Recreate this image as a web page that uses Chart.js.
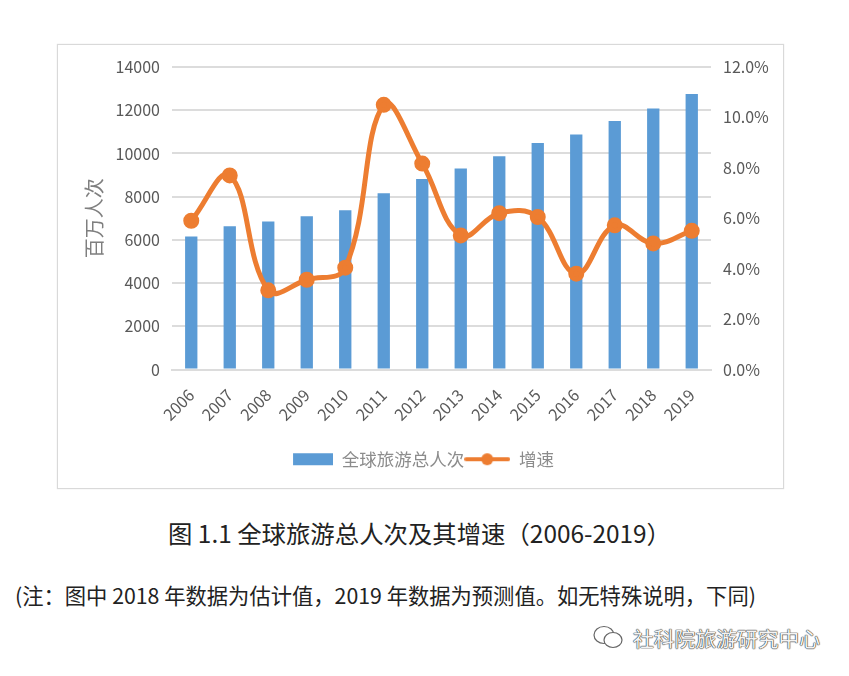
<!DOCTYPE html>
<html lang="zh">
<head>
    <meta charset="UTF-8">
    <title>全球旅游总人次及其增速</title>
    <script src="https://cdn.jsdelivr.net/npm/chart.js"></script>
    <style>
        body {
            margin: 0;
            width: 849px;
            height: 676px;
            position: relative;
            background: #fff;
            overflow: hidden;
            font-family: "Noto Sans CJK SC", sans-serif;
            color: #222;
        }
        .chart-box {
            position: absolute;
            left: 57px;
            top: 44px;
            width: 725px;
            height: 443px;
            border: 1px solid #d9d9d9;
            box-shadow: 0 0 1px #d9d9d9;
        }
        .line {
            position: absolute;
            white-space: nowrap;
            line-height: 1;
        }
        #caption { left: 168px; top: 521px; font-size: 24.4px; }
        #note { left: 15px; top: 584px; font-size: 21.3px; }
        #mark {
            left: 592px;
            top: 625px;
            font-size: 20.8px;
            color: #f4f4f4;
            text-shadow: 0 0 1px #333, 0 0 1px #333, 0 0 1px #333;
            display: flex;
            align-items: center;
            gap: 7px;
        }
    </style>
</head>
<body>

    <div class="chart-box">
        <canvas id="tourismChart" width="725" height="443"></canvas>
    </div>
    <div class="line" id="caption">图 1.1 全球旅游总人次及其增速（2006-2019）</div>
    <div class="line" id="note">(注：图中 2018 年数据为估计值，2019 年数据为预测值。如无特殊说明，下同)</div>
    <div class="line" id="mark">
        <svg width="34" height="26" viewBox="0 0 34 26" fill="none" stroke="#666" stroke-width="1.2">
            <ellipse cx="12" cy="10" rx="10" ry="8.5" fill="#fff"/>
            <ellipse cx="21" cy="15" rx="9" ry="7.5" fill="#fff"/>
        </svg>
        <span>社科院旅游研究中心</span>
    </div>

    <script>
        const years = ["2006", "2007", "2008", "2009", "2010", "2011", "2012", "2013", "2014", "2015", "2016", "2017", "2018", "2019"];
        const totalTrips = [6150, 6630, 6850, 7090, 7370, 8160, 8820, 9300, 9875, 10480, 10880, 11500, 12080, 12750];
        const growthRate = [5.9, 7.7, 3.14, 3.56, 4.04, 10.5, 8.17, 5.32, 6.2, 6.05, 3.8, 5.72, 5.0, 5.5];

        const barColor = "#5b9bd5";
        const lineColor = "#ed7d31";
        const gridColor = "#dcdcdc";
        const tickColor = "#595959";
        const fontName = '"Noto Sans CJK SC", sans-serif';

        // legend swatches: Excel style long bar and line-with-marker
        function makeSwatch(draw) {
            const c = document.createElement("canvas");
            c.width = 46;
            c.height = 14;
            draw(c.getContext("2d"));
            return c;
        }
        const barSwatch = makeSwatch(ctx => {
            ctx.fillStyle = barColor;
            ctx.fillRect(6, 1, 40, 12);
        });
        const lineSwatch = makeSwatch(ctx => {
            ctx.strokeStyle = lineColor;
            ctx.lineWidth = 4;
            ctx.lineCap = "round";
            ctx.beginPath();
            ctx.moveTo(2, 7);
            ctx.lineTo(44, 7);
            ctx.stroke();
            ctx.fillStyle = lineColor;
            ctx.beginPath();
            ctx.arc(23, 7, 6, 0, Math.PI * 2);
            ctx.fill();
        });

        new Chart(document.getElementById("tourismChart"), {
            data: {
                labels: years,
                datasets: [
                    {
                        type: "bar",
                        label: "全球旅游总人次",
                        data: totalTrips,
                        yAxisID: "y",
                        backgroundColor: barColor,
                        barPercentage: 0.32,
                        categoryPercentage: 1,
                        order: 2
                    },
                    {
                        type: "line",
                        label: "增速",
                        data: growthRate,
                        yAxisID: "y1",
                        borderColor: lineColor,
                        backgroundColor: lineColor,
                        borderWidth: 5,
                        tension: 0.4,
                        pointRadius: 5.5,
                        pointHoverRadius: 5.5,
                        order: 1
                    }
                ]
            },
            options: {
                responsive: false,
                animation: false,
                layout: { padding: { top: 22, bottom: 10 } },
                plugins: {
                    tooltip: { enabled: false },
                    legend: {
                        position: "bottom",
                        labels: {
                            usePointStyle: true,
                            pointStyleWidth: 46,
                            padding: 0,
                            color: "#8c8c8c",
                            font: { family: fontName, size: 17.5 },
                            generateLabels: () => [
                                { text: "全球旅游总人次", pointStyle: barSwatch, fontColor: "#8c8c8c", lineWidth: 0, datasetIndex: 0 },
                                { text: "增速", pointStyle: lineSwatch, fontColor: "#8c8c8c", lineWidth: 0, datasetIndex: 1 }
                            ]
                        }
                    }
                },
                scales: {
                    x: {
                        afterFit: scale => { scale.height = 81; },
                        grid: { display: false },
                        border: { color: gridColor, width: 2 },
                        ticks: {
                            color: tickColor,
                            font: { family: fontName, size: 16 },
                            minRotation: 45,
                            maxRotation: 45,
                            padding: 8,
                            autoSkip: false
                        }
                    },
                    y: {
                        position: "left",
                        min: 0,
                        max: 14000,
                        afterFit: scale => { scale.width = 114; },
                        grid: { color: gridColor, lineWidth: 2, drawTicks: false },
                        border: { display: false },
                        ticks: {
                            stepSize: 2000,
                            color: tickColor,
                            padding: 12,
                            font: { family: fontName, size: 16 },
                            callback: v => String(v)
                        },
                        title: {
                            display: true,
                            text: "百万人次",
                            color: "#7f7f7f",
                            padding: { top: 24 },
                            font: { family: fontName, size: 20 }
                        }
                    },
                    y1: {
                        position: "right",
                        min: 0,
                        max: 12,
                        afterFit: scale => { scale.width = 72; },
                        grid: { display: false, drawTicks: false },
                        border: { display: false },
                        ticks: {
                            stepSize: 2,
                            color: tickColor,
                            padding: 12,
                            font: { family: fontName, size: 16 },
                            callback: v => v.toFixed(1) + "%"
                        }
                    }
                }
            }
        });
    </script>

</body>
</html>
